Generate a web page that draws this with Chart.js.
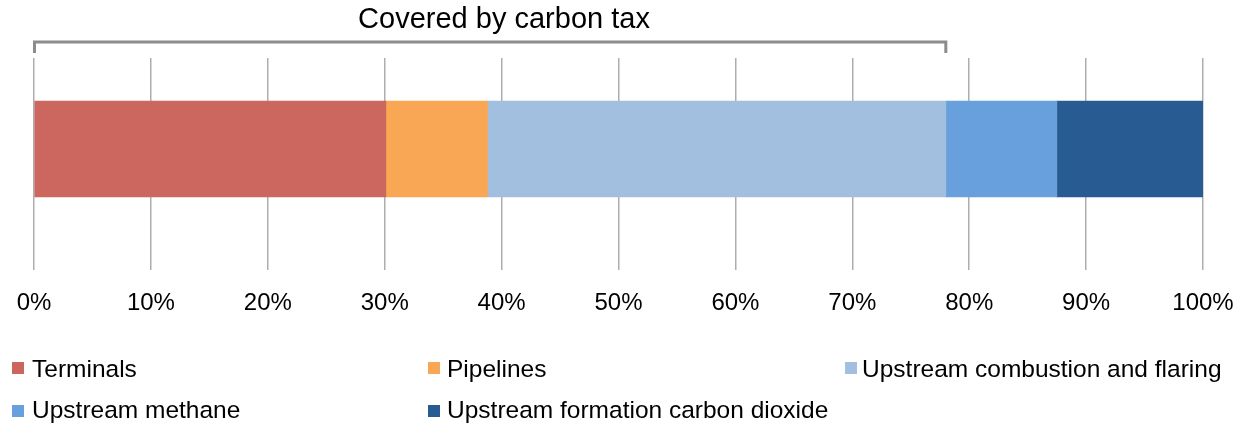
<!DOCTYPE html>
<html>
<head>
<meta charset="utf-8">
<title>Emissions by source</title>
<script src="https://cdn.jsdelivr.net/npm/chart.js@4/dist/chart.umd.min.js"></script>
<style>
  html, body { margin: 0; padding: 0; background: #ffffff; }
  #wrap { width: 1233px; height: 427px; position: relative; }
</style>
</head>
<body>
<div id="wrap"><canvas id="chart"></canvas></div>
<script>
// Share of emissions by source (percent of total)
const categories = ['Emissions'];
const seriesNames = [
  'Terminals',
  'Pipelines',
  'Upstream combustion and flaring',
  'Upstream methane',
  'Upstream formation carbon dioxide'
];
const terminals = [30.1];
const pipelines = [8.7];
const upstreamCombustion = [39.2];
const upstreamMethane = [9.5];
const upstreamFormationCO2 = [12.5];
const seriesColors = ['#CB675E', '#F9A755', '#A3BFDF', '#689FDD', '#285B92'];

// Axis ticks (percent)
const tickValues = [0, 10, 20, 30, 40, 50, 60, 70, 80, 90, 100];

// The first series up to this count are covered by the tax bracket
const coveredSeriesCount = 3;
const bracketTitle = 'Covered by carbon tax';

const FONT = '"Liberation Sans", Arial, Helvetica, sans-serif';
const GRID = '#ADADAD';

const seriesValues = [terminals, pipelines, upstreamCombustion, upstreamMethane, upstreamFormationCO2];

// Bracket above the bar plus its caption
const bracketPlugin = {
  id: 'taxBracket',
  afterDraw(chart) {
    const ctx = chart.ctx;
    const x = chart.scales.x;
    let covered = 0;
    for (let i = 0; i < coveredSeriesCount; i++) covered += seriesValues[i][0];
    const x0 = x.getPixelForValue(0) + 0.5;
    const x1 = x.getPixelForValue(covered);
    ctx.save();
    ctx.strokeStyle = '#8C8C8C';
    ctx.lineWidth = 3;
    ctx.lineJoin = 'miter';
    ctx.beginPath();
    ctx.moveTo(x0, 53);
    ctx.lineTo(x0, 42);
    ctx.lineTo(x1, 42);
    ctx.lineTo(x1, 53);
    ctx.stroke();
    ctx.fillStyle = '#000000';
    ctx.font = '29px ' + FONT;
    ctx.textAlign = 'center';
    ctx.textBaseline = 'alphabetic';
    ctx.fillText(bracketTitle, 504, 28);
    ctx.restore();
  }
};

// Three-column legend under the axis
const legendPlugin = {
  id: 'gridLegend',
  afterDraw(chart) {
    const ctx = chart.ctx;
    const boxX = [12, 428, 845];
    const textX = [32, 447, 862];
    const boxY = [362, 405];
    const baseY = [377, 418];
    ctx.save();
    ctx.font = '24.5px ' + FONT;
    ctx.textAlign = 'left';
    ctx.textBaseline = 'alphabetic';
    chart.data.datasets.forEach((ds, i) => {
      const col = i % 3;
      const row = Math.floor(i / 3);
      ctx.fillStyle = ds.backgroundColor;
      ctx.fillRect(boxX[col], boxY[row], 12, 12);
      ctx.fillStyle = '#000000';
      ctx.fillText(ds.label, textX[col], baseY[row]);
    });
    ctx.restore();
  }
};

new Chart(document.getElementById('chart'), {
  type: 'bar',
  data: {
    labels: categories,
    datasets: seriesNames.map((name, i) => ({
      label: name,
      data: seriesValues[i],
      backgroundColor: seriesColors[i],
      borderWidth: 0,
      barThickness: 96
    }))
  },
  options: {
    indexAxis: 'y',
    responsive: true,
    maintainAspectRatio: false,
    animation: false,
    layout: { padding: { top: 58, left: 34, right: 30, bottom: 0 } },
    plugins: {
      legend: { display: false },
      tooltip: { enabled: false },
      title: { display: false }
    },
    scales: {
      x: {
        stacked: true,
        min: 0,
        max: 100,
        afterBuildTicks(scale) {
          scale.ticks = tickValues.map(v => ({ value: v }));
        },
        afterFit(scale) {
          scale.height = 187;
          scale.paddingLeft = 0;
          scale.paddingRight = 0;
        },
        ticks: {
          callback: v => v + '%',
          color: '#000000',
          font: { family: FONT, size: 24 },
          padding: 19,
          maxRotation: 0
        },
        grid: {
          color: GRID,
          lineWidth: 1.5,
          drawTicks: true,
          tickLength: 30,
          tickColor: GRID
        },
        border: { display: false }
      },
      y: {
        stacked: true,
        display: false
      }
    }
  },
  plugins: [bracketPlugin, legendPlugin]
});
</script>
</body>
</html>
